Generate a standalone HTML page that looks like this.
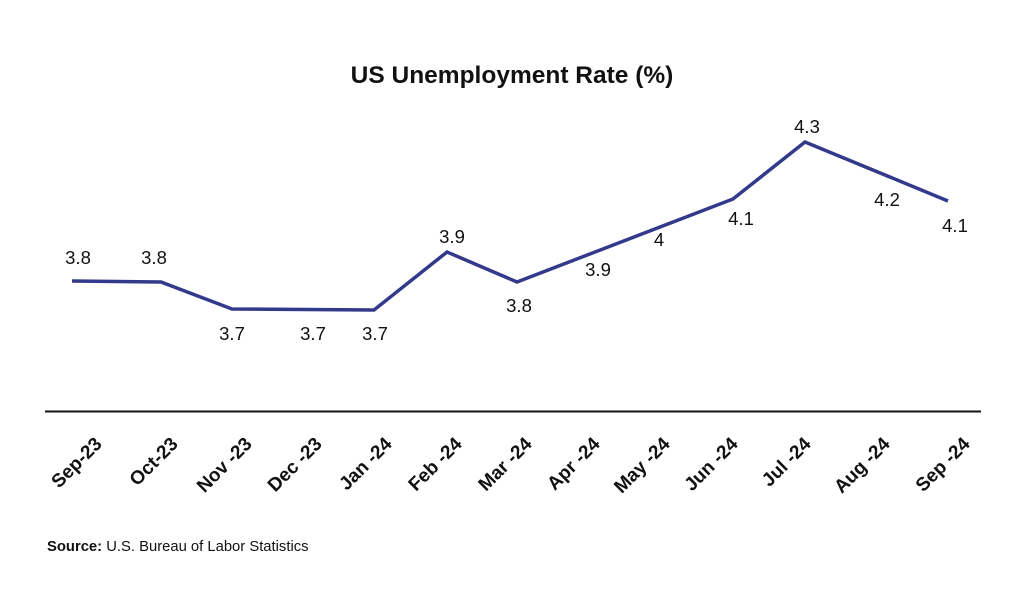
<!DOCTYPE html>
<html><head><meta charset="utf-8"><style>
html,body{margin:0;padding:0;background:#fff;}
svg text{font-family:"Liberation Sans",sans-serif;fill:#111;}
</style></head><body>
<svg width="1024" height="595" viewBox="0 0 1024 595" xmlns="http://www.w3.org/2000/svg">
<text x="512" y="83" text-anchor="middle" font-size="24.5" font-weight="bold">US Unemployment Rate (%)</text>
<line x1="45" y1="411.5" x2="981" y2="411.5" stroke="#111" stroke-width="2"/>
<polyline fill="none" stroke="#333a8c" stroke-width="3.5" stroke-linejoin="miter" points="72,281 161,282 232,309 374,310 447,252 517,282 733,199 805,142 948,201"/>
<g font-size="18.5" text-anchor="middle">
<text x="78" y="264">3.8</text>
<text x="154" y="264">3.8</text>
<text x="232" y="340">3.7</text>
<text x="313" y="340">3.7</text>
<text x="375" y="340">3.7</text>
<text x="452" y="243">3.9</text>
<text x="519" y="312">3.8</text>
<text x="598" y="276">3.9</text>
<text x="659" y="246">4</text>
<text x="741" y="225">4.1</text>
<text x="807" y="133">4.3</text>
<text x="887" y="206">4.2</text>
<text x="955" y="232">4.1</text>
</g>
<g font-size="19" font-weight="bold" text-anchor="end">
<text transform="translate(103,445) rotate(-45)">Sep-23</text>
<text transform="translate(179,445) rotate(-45)">Oct-23</text>
<text transform="translate(253,445) rotate(-45)">Nov -23</text>
<text transform="translate(323,445) rotate(-45)">Dec -23</text>
<text transform="translate(393,445) rotate(-45)">Jan -24</text>
<text transform="translate(463,445) rotate(-45)">Feb -24</text>
<text transform="translate(533,445) rotate(-45)">Mar -24</text>
<text transform="translate(601,445) rotate(-45)">Apr -24</text>
<text transform="translate(671,445) rotate(-45)">May -24</text>
<text transform="translate(739,445) rotate(-45)">Jun -24</text>
<text transform="translate(812,445) rotate(-45)">Jul -24</text>
<text transform="translate(891,445) rotate(-45)">Aug -24</text>
<text transform="translate(971,445) rotate(-45)">Sep -24</text>
</g>
<text x="47" y="551" font-size="14.8"><tspan font-weight="bold">Source:</tspan> U.S. Bureau of Labor Statistics</text>
</svg>
</body></html>
